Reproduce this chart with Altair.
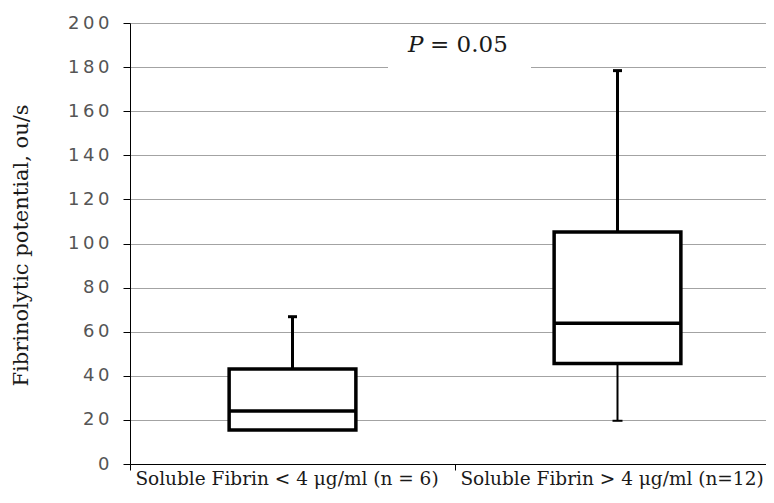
import altair as alt
import pandas as pd

categories = ["Soluble Fibrin < 4 μg/ml  (n = 6)", "Soluble Fibrin > 4 μg/ml (n=12)"]
mins = [15.4, 19.6]
q1s = [15.4, 45.6]
medians = [24.0, 63.8]
q3s = [43.1, 105.2]
maxs = [66.8, 178.4]
y_ticks = [0, 20, 40, 60, 80, 100, 120, 140, 160, 180, 200]
p_italic = "P"
p_rest = "= 0.05"
y_title = "Fibrinolytic potential, ou/s"

df = pd.DataFrame(dict(cat=categories, lo=mins, q1=q1s, med=medians, q3=q3s, hi=maxs))

x_enc = alt.X(
    "cat:N",
    sort=categories,
    scale=alt.Scale(range=[0, 650], paddingInner=0, paddingOuter=0),
    axis=alt.Axis(
        title=None, tickBand="extent", labelAngle=0, labelFont="DejaVu Serif",
        labelFontSize=18.5, labelColor="#1a1a1a", domainColor="#000000", tickColor="#000000",
        tickSize=6, labelPadding=14, labelBaseline="alphabetic", labelLimit=500,
        labelOverlap=False, grid=False, labelOffset=-6,
    ),
)

y_scale = alt.Scale(domain=[0, 200], nice=False, zero=True)
y_axis = alt.Axis(
    values=y_ticks, grid=True, gridColor="#a3a3a3", gridWidth=1,
    domainColor="#000000", tickColor="#000000", tickSize=7,
    labelFont="DejaVu Sans", labelFontSize=18, labelColor="#555555", labelPadding=14,
    labelExpr="replace(datum.label, regexp('([0-9])(?=[0-9])', 'g'), '$1\u2009')",
    title=y_title, titleFont="DejaVu Serif", titleFontSize=21, titleFontWeight="normal",
    titleColor="#1a1a1a", titleAngle=-90, titleX=-103, titleY=222,
    titleBaseline="alphabetic", titleAlign="center",
)


def Y(field):
    return alt.Y(field, type="quantitative", scale=y_scale, axis=y_axis)


base = alt.Chart(df)

whisk_up = base.mark_rule(color="black", strokeWidth=3).encode(x=x_enc, y=Y("q3"), y2="hi")
whisk_lo = base.mark_rule(color="black", strokeWidth=2).encode(x=x_enc, y=Y("lo"), y2="q1")
cap_up = base.mark_tick(color="black", size=9, thickness=3, opacity=1).encode(x=x_enc, y=Y("hi"))
cap_lo = base.mark_tick(color="black", size=10, thickness=2, opacity=1).encode(x=x_enc, y=Y("lo"))
box = base.mark_bar(width=alt.RelativeBandSize(0.39), fill="white", stroke="black",
                    strokeWidth=3.5).encode(x=x_enc, y=Y("q1"), y2="q3")
med = base.mark_tick(color="black", size=127, thickness=3.5, opacity=1).encode(x=x_enc, y=Y("med"))

label_bg = alt.Chart(pd.DataFrame({"a": [0]})).mark_rect(color="white").encode(
    x=alt.value(258), x2=alt.value(401), y=alt.datum(176), y2=alt.datum(196)
)
p1 = alt.Chart(pd.DataFrame({"a": [0]})).mark_text(
    font="DejaVu Serif", fontSize=23, fontStyle="italic", align="left",
    baseline="alphabetic", color="#1a1a1a"
).encode(x=alt.value(278), y=alt.datum(187), text=alt.value(p_italic))
p2 = alt.Chart(pd.DataFrame({"a": [0]})).mark_text(
    font="DejaVu Serif", fontSize=23, align="left",
    baseline="alphabetic", color="#1a1a1a"
).encode(x=alt.value(300), y=alt.datum(187), text=alt.value(p_rest))

chart = alt.layer(whisk_up, whisk_lo, cap_up, cap_lo, box, med, label_bg, p1, p2).properties(
    width=636, height=441,
    autosize=alt.AutoSizeParams(type="none"),
    padding={"left": 122, "top": 15, "right": 0, "bottom": 25},
).configure_view(stroke=None).configure(background="white")

chart.save("out.html", embed_options={"renderer": "svg", "actions": False})
